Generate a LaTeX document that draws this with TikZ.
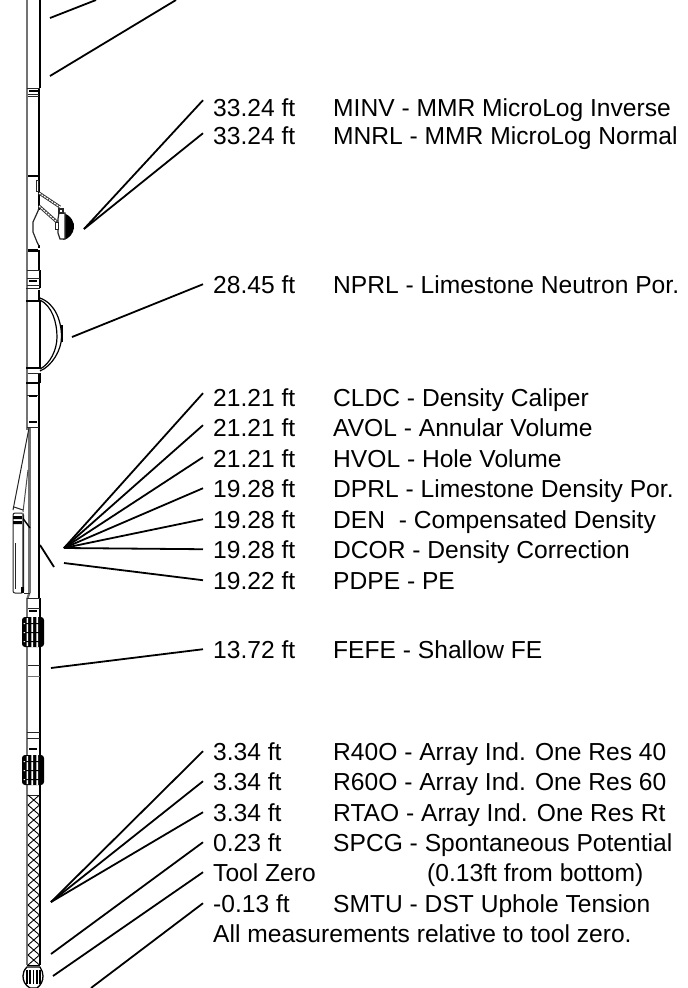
\documentclass[tikz,border=0pt]{standalone}
\usepackage{fontspec}
\setmainfont{Liberation Sans}
\tikzset{
 lead/.style={line width=1.8pt,black},
 lab/.style={anchor=base west,inner xsep=10pt,inner ysep=0pt,font=\fontsize{24.6}{26}\selectfont},
 desc/.style={anchor=base west,inner sep=0pt,font=\fontsize{24.6}{26}\selectfont},
 edge/.style={line width=1.4pt,black},
 gedge/.style={line width=2.2pt,black!55},
 thin/.style={line width=1pt,black!85},
 thick/.style={line width=2.2pt,black},
}
\begin{document}
\begin{tikzpicture}[x=1pt,y=-1pt]
\useasboundingbox (0,0) rectangle (688,988);
\fill[white] (0,0) rectangle (688,988);
\draw[gedge] (27,0)--(27,430);
\draw[gedge] (29.5,428)--(29.5,593);
\draw[gedge] (29.5,593)--(27.5,598);
\draw[gedge] (27,598)--(27,965);
\draw[edge] (40,0)--(40,88) (39,88)--(39,210) (39,245)--(39,248) (40,270)--(40,288) (40,301)--(40,368) (40,373)--(40,383);
\draw[edge] (39,250)--(39,270) (39,383)--(39,598);
\draw[edge] (40,598)--(40,965);
\draw[thin] (27,88)--(40,88) (28,96)--(39,96);
\draw[thick] (29,91)--(38,91);
\draw[thin] (28,94)--(39,94);
\draw[thick] (28,176)--(38,176);
\draw[thick] (28,250.5)--(38,250.5);
\draw[thin] (27,270)--(40,270) (27,278)--(40,278) (27,285)--(40,285);
\draw[thick] (29,281)--(37,281);
\draw[thin] (26,288)--(40,288);
\draw[line width=2.4pt] (39,290)--(39,300);
\draw[line width=1.5pt] (26,301)--(40,301);
\draw[line width=1.5pt] (26,368)--(40,368);
\draw[thin] (28,373)--(40,373);
\draw[line width=2.4pt] (39,374)--(39,382);
\draw[thick] (26,383)--(40,383);
\draw[thin] (27,395)--(39,395);
\draw[thick] (29,396)--(37,396);
\draw[thick] (29,422)--(37,422);
\draw[thin] (27,427)--(39,427);
% micro-log pad
\draw[thin] (36,180) rectangle (38.5,191);
\draw[black!80,line width=3pt] (39,193)--(60,207);
\draw[white,line width=1.2pt,dash pattern=on 2pt off 1pt] (39,193)--(60,207);
\draw[black!80,line width=3pt] (39,206)--(57,222);
\draw[white,line width=1.2pt,dash pattern=on 2pt off 1pt] (39,206)--(57,222);
\draw[thin,line width=1.2pt] (39,208)--(38,211)--(33,222)--(33,232)--(37,242)--(39,246);
\fill[black] (63,213) .. controls (71,215) and (75,223) .. (74,228) .. controls (73,234) and (69,239) .. (63,240) -- cycle;
\draw[thin,line width=1.2pt,fill=white] (59,213)--(65,213)--(65,239)--(60,239)--(58,233)--(58,219)--cycle;
\draw[thin,fill=white] (55,222) rectangle (58,229);
\draw[thin,line width=1.2pt] (59,209) rectangle (63,213);
% bow spring
\draw[line width=1.2pt] (40,298) .. controls (56,304) and (61.5,322) .. (61.5,337) .. controls (61.5,350) and (52,366) .. (40,371);
\draw[line width=1.2pt] (40,300) .. controls (52,306) and (57,322) .. (57,337) .. controls (57,350) and (50,364) .. (40,369);
\draw[line width=1.5pt] (61.8,325)--(61.8,342);
% density pad
\draw[thin] (29,428)--(13,510);
\draw[thin,black!70] (23,512)--(28,470);
\draw[thin] (14,507)--(23,510);
\draw[thin,rounded corners=2pt] (13,513) -- (13,593) -- (23.5,593) -- (23.5,513) -- cycle;
\fill[black] (13,516) rectangle (22,519) (13,521) rectangle (22,524);
\draw[line width=1.4pt] (22,517)--(30,528);
\draw[thin] (15,543)--(15,589);
\draw[black!55,line width=1.2pt] (22.5,513)--(22.5,590);
\fill[black] (21,587) rectangle (24,593);
\draw[thin] (24,593)--(30,593);
\draw[thin] (27,598)--(40,598) (28,608)--(40,608);
\draw[thick] (29,611)--(37,611);
\draw[thin] (28,665)--(40,665);
\draw[gedge,line width=1pt] (28,676)--(40,676);
% caliper blocks
\foreach \t/\h in {617/30,755/30}{
 \begin{scope}[yshift=-\t pt]
 \fill[black,rounded corners=3pt] (22,0) rectangle (44,\h);
 \fill[white] (26.5,1) rectangle (28,\h-1) (31.3,0) rectangle (33,\h) (36.3,0) rectangle (38,\h);
 \fill[black] (26,6) rectangle (41,7) (26,15) rectangle (41,16) (26,24) rectangle (41,25);
 \fill[white] (23.5,6) rectangle (25,7) (23.5,15) rectangle (25,16) (23.5,24) rectangle (25,25);
 \end{scope}
}
\draw[thin] (27,732)--(40,732) (27,738)--(40,738);
\draw[thick] (29,749)--(37,749);
\draw[thin] (27,795)--(40,795);
\draw[line width=1.6pt] (27,965.5)--(40,965.5);
\foreach \i in {0,...,16}{
 \draw[line width=0.9pt] (28,{795+10*\i})--(39.5,{805+10*\i}) (39.5,{795+10*\i})--(28,{805+10*\i});
}
% nose
\draw[line width=1.3pt,fill=white] (27,967) .. controls (24,970) and (23,973) .. (23,976) .. controls (23,981) and (25,985) .. (30,988) -- (37,988) .. controls (41,985) and (43,981) .. (43,976) .. controls (43,973) and (42,970) .. (40,967) -- cycle;
\foreach \x in {27,30,33.5,37,40}{ \draw[line width=1.2pt] (\x,970)--(\x,984); }
% labels
\foreach \n/\y/\t in {a/116/33.24 ft,b/144/33.24 ft,c/293/28.45 ft,d/406/21.21 ft,e/436/21.21 ft,f/467/21.21 ft,g/497/19.28 ft,h/528/19.28 ft,i/558/19.28 ft,j/589/19.22 ft,k/658/13.72 ft,l/760/3.34 ft,m/790/3.34 ft,n/821/3.34 ft,o/851/0.23 ft,p/881/Tool Zero,q/912/-0.13 ft}{
 \node[lab] (\n) at (203,\y) {\t};
}
\node[desc] (da) at (333,116) {MINV - MMR MicroLog Inverse};
\node[desc] (db) at (333,144) {MNRL - MMR MicroLog Normal};
\node[desc] (dc) at (333,293) {NPRL - Limestone Neutron Por.};
\node[desc] (dd) at (333,406) {CLDC - Density Caliper};
\node[desc] (de) at (333,436) {AVOL - Annular Volume};
\node[desc] (df) at (333,467) {HVOL - Hole Volume};
\node[desc] (dg) at (333,497) {DPRL - Limestone Density Por.};
\node[desc] (dh) at (333,528) {DEN\ \ - Compensated Density};
\node[desc] (di) at (333,558) {DCOR - Density Correction};
\node[desc] (dj) at (333,589) {PDPE - PE};
\node[desc] (dk) at (333,658) {FEFE - Shallow FE};
\node[desc] (dl) at (333,760) {R40O - Array Ind. One Res 40};
\node[desc] (dm) at (333,790) {R60O - Array Ind. One Res 60};
\node[desc] (dn) at (333,821) {RTAO - Array Ind. One Res Rt};
\node[desc] (do) at (333,851) {SPCG - Spontaneous Potential};
\node[desc] (dp) at (427,881) {(0.13ft from bottom)};
\node[desc] (dq) at (333,912) {SMTU - DST Uphole Tension};
\node[desc] (foot) at (213,942) {All measurements relative to tool zero.};
\coordinate (t1) at (50,18); \coordinate (t1e) at (96,0);
\coordinate (t2) at (50,76); \coordinate (t2e) at (176,0);
\coordinate (ml) at (84,229);
\coordinate (np) at (72,337);
\coordinate (fan) at (64,548);
\coordinate (pe) at (64,563);
\coordinate (s1) at (40,545); \coordinate (s2) at (54,567);
\coordinate (fe) at (51,668);
\coordinate (ar) at (51,902);
\coordinate (sp) at (51,954);
\coordinate (tz) at (53,976);
\coordinate (sm) at (91,988);
\draw[lead] (t1)--(t1e);
\draw[lead] (t2)--(t2e);
\draw[lead] (s1)--(s2);
\draw[lead] (ml)--([yshift=7pt]a.west);
\draw[lead] (ml)--([yshift=2pt]b.west);
\draw[lead] (np)--(c.west);
\foreach \n/\d in {d/4,e/2,f/1,g/0,h/0,i/0}{ \draw[lead] (fan)--([yshift=\d pt]\n.west); }
\draw[lead] (pe)--(j.west);
\draw[lead] (fe)--(k.west);
\foreach \n in {l,m,n}{ \draw[lead] (ar)--(\n.west); }
\draw[lead] (sp)--(o.west);
\draw[lead] (tz)--(p.west);
\draw[lead] (sm)--(q.west);
\end{tikzpicture}
\end{document}
